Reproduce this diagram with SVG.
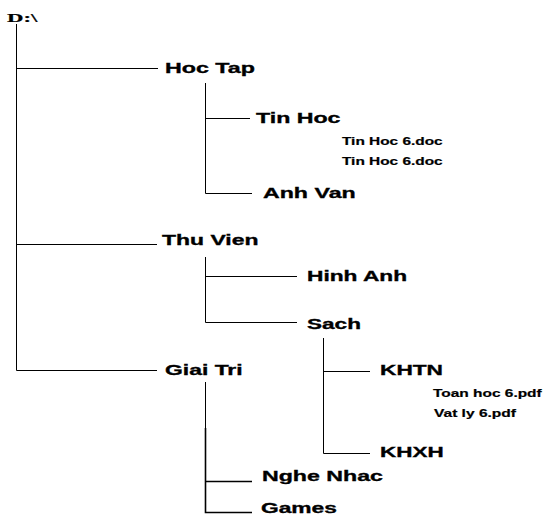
<svg xmlns="http://www.w3.org/2000/svg" width="544" height="517" viewBox="0 0 544 517">
<style>
.ln{stroke:#000;stroke-width:1;fill:none}
.big{font-family:"Liberation Sans",Arial,sans-serif;font-weight:bold;font-size:15.5px;fill:#000;stroke:#000;stroke-width:0.35}
.sm{font-family:"Liberation Sans",Arial,sans-serif;font-weight:bold;font-size:10.5px;fill:#000;stroke:#000;stroke-width:0.2}
.root{font-family:"Liberation Serif","Times New Roman",serif;font-weight:bold;font-size:12px;fill:#000;stroke:#000;stroke-width:0.2}
</style>
<rect width="544" height="517" fill="#fff"/>
<g id="connectors">
<path class="ln" d="M16.5 24V370.5H157M16.5 68.5H158M16.5 244.5H157"/>
<path class="ln" d="M205.5 83V193.5H252M205.5 118.5H250"/>
<path class="ln" d="M205.5 257V322.5H297M205.5 276.5H297"/>
<path class="ln" d="M323.5 338V453.5H370M323.5 371.5H370"/>
<path class="ln" d="M205.5 382V428"/>
<path class="ln" style="stroke-width:1.6" d="M205.5 428V512.5H252M205.5 481.5H252"/>
</g>
<g id="root"><text class="root" transform="translate(7,22) scale(1.9,1)">D:\</text></g>
<g id="hoctap"><text class="big" transform="translate(165,73) scale(1.5,1)">Hoc Tap</text></g>
<g id="tinhoc"><text class="big" transform="translate(256,123) scale(1.495,1)">Tin Hoc</text></g>
<g id="file1"><text class="sm" transform="translate(342,145) scale(1.467,1)">Tin Hoc 6.doc</text></g>
<g id="file2"><text class="sm" transform="translate(342,165) scale(1.467,1)">Tin Hoc 6.doc</text></g>
<g id="anhvan"><text class="big" transform="translate(263,198) scale(1.495,1)">Anh Van</text></g>
<g id="thuvien"><text class="big" transform="translate(162,245) scale(1.482,1)">Thu Vien</text></g>
<g id="hinhanh"><text class="big" transform="translate(307,281) scale(1.466,1)">Hinh Anh</text></g>
<g id="sach"><text class="big" transform="translate(307,329) scale(1.458,1)">Sach</text></g>
<g id="giaitri"><text class="big" transform="translate(165,375) scale(1.479,1)">Giai Tri</text></g>
<g id="khtn"><text class="big" transform="translate(380,375) scale(1.464,1)">KHTN</text></g>
<g id="toanhoc"><text class="sm" transform="translate(433,397) scale(1.473,1)">Toan hoc 6.pdf</text></g>
<g id="vatly"><text class="sm" transform="translate(434,417) scale(1.48,1)">Vat ly 6.pdf</text></g>
<g id="khxh"><text class="big" transform="translate(380,457) scale(1.45,1)">KHXH</text></g>
<g id="nghenhac"><text class="big" transform="translate(262,481) scale(1.495,1)">Nghe Nhac</text></g>
<g id="games"><text class="big" transform="translate(261,513) scale(1.47,1)">Games</text></g>
</svg>
